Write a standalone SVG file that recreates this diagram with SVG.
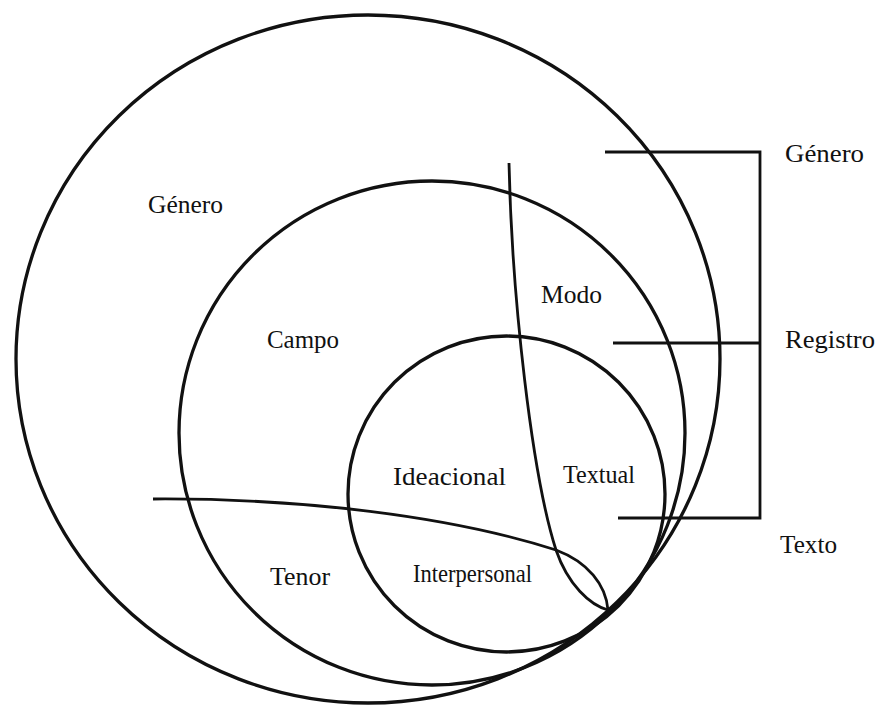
<svg xmlns="http://www.w3.org/2000/svg" width="878" height="721" viewBox="0 0 878 721">
<style>
.c{fill:none;stroke:#111;stroke-width:3.3}
.l{fill:none;stroke:#111;stroke-width:2.8}
text{font-family:"Liberation Serif","Times New Roman",serif;fill:#111;font-size:26px}
</style>
<rect width="878" height="721" fill="#fff"/>
<g id="genero-circle"><ellipse class="c" cx="368" cy="359" rx="352" ry="344"/></g>
<g id="registro-circle"><ellipse class="c" cx="432" cy="433" rx="253" ry="252"/></g>
<g id="texto-circle"><ellipse class="c" cx="506.5" cy="494" rx="158.5" ry="158"/></g>
<g id="connectors">
<path class="l" d="M509,163 C512,300 532,475 556,550 C568,585 590,605 608,610"/>
<path class="l" d="M153,499 C300,498 450,516 556,550 C588,562 606,585 608,610"/>
<path class="l" d="M605,152 H760 V518 H618"/>
<path class="l" d="M613,343 H760"/>
</g>
<g id="labels">
<text x="148" y="213" textLength="75" lengthAdjust="spacingAndGlyphs">Género</text>
<text x="267" y="348" textLength="72" lengthAdjust="spacingAndGlyphs">Campo</text>
<text x="541" y="303" textLength="61" lengthAdjust="spacingAndGlyphs">Modo</text>
<text x="393" y="485" textLength="113" lengthAdjust="spacingAndGlyphs">Ideacional</text>
<text x="563" y="483" font-size="23" textLength="72" lengthAdjust="spacingAndGlyphs">Textual</text>
<text x="270" y="585" textLength="60" lengthAdjust="spacingAndGlyphs">Tenor</text>
<text x="413" y="582" font-size="23" textLength="119" lengthAdjust="spacingAndGlyphs">Interpersonal</text>
<text x="785" y="162" textLength="79" lengthAdjust="spacingAndGlyphs">Género</text>
<text x="785" y="348" textLength="90" lengthAdjust="spacingAndGlyphs">Registro</text>
<text x="780" y="553" textLength="57" lengthAdjust="spacingAndGlyphs">Texto</text>
</g>
</svg>
